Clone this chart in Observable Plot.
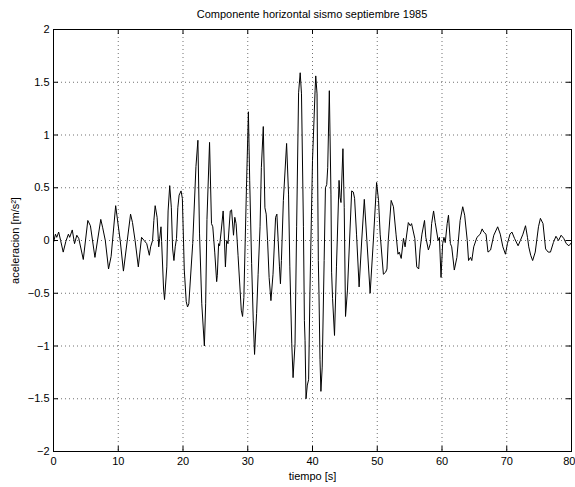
<!DOCTYPE html>
<html><head><meta charset="utf-8">
<script src="https://cdn.jsdelivr.net/npm/d3@7"></script>
<script src="https://cdn.jsdelivr.net/npm/@observablehq/plot@0.6"></script>
<style>
html,body{margin:0;padding:0;background:#fff;}
#wrap{width:575px;height:487px;position:relative;overflow:hidden;font-family:"Liberation Sans",Arial,Helvetica,sans-serif;}
#title{box-sizing:border-box;height:22px;padding-top:7px;padding-left:53px;padding-right:4px;width:575px;text-align:center;font-size:11px;line-height:14px;color:#000;}
svg{display:block;}
</style></head><body>
<div id="wrap"><div id="title">Componente horizontal sismo septiembre 1985</div><div id="chart"></div></div>
<script>
const title = "Componente horizontal sismo septiembre 1985";
const xLabel = "tiempo [s]";
const yLabel = "aceleracion [m/s²]";
const xTicks = [0, 10, 20, 30, 40, 50, 60, 70, 80];
const yTicks = [-2, -1.5, -1, -0.5, 0, 0.5, 1, 1.5, 2];
const tiempo = [
0.0,0.3,0.5,0.8,1.1,1.5,1.9,2.3,2.5,2.9,3.25,3.6,3.9,4.6,5.3,5.7,6.4,7.3,7.6,8.0,
8.5,8.9,9.6,10.0,10.3,10.8,11.9,12.2,12.6,13.1,13.6,14.0,14.4,14.8,15.0,15.3,15.5,15.7,16.0,16.25,
16.4,16.6,16.7,17.0,17.15,17.5,17.7,17.95,18.2,18.4,18.6,18.8,19.0,19.2,19.4,19.7,19.9,20.2,20.5,20.7,
20.9,21.5,22.0,22.3,22.55,22.9,23.3,23.5,23.7,24.1,24.4,24.6,24.9,25.2,25.3,25.5,25.65,25.9,26.2,26.35,
26.55,26.75,26.95,27.3,27.5,27.8,28.0,28.2,28.5,29.0,29.2,29.4,29.8,30.1,30.3,30.6,30.85,31.05,31.37,31.6,
31.9,32.1,32.4,32.65,32.85,33.06,33.3,33.58,33.9,34.3,34.5,34.7,34.9,35.05,35.2,35.5,36.0,36.3,36.5,36.8,
37.0,37.3,37.55,37.85,38.1,38.3,38.6,38.75,38.85,39.0,39.2,39.4,39.6,40.0,40.4,40.5,40.7,40.9,41.0,41.16,
41.3,41.5,41.8,42.0,42.2,42.35,42.6,42.85,42.95,43.1,43.4,43.7,44.1,44.25,44.4,44.7,44.9,45.1,45.4,46.05,
46.3,46.5,46.8,47.2,47.6,48.0,48.4,48.9,49.4,49.9,50.2,50.45,50.95,51.3,51.5,51.7,52.15,52.5,52.9,53.2,
53.4,53.7,54.05,54.3,54.6,54.8,55.1,55.3,55.8,56.1,56.4,56.6,56.9,57.3,57.5,57.9,58.2,58.4,58.7,58.95,
59.4,59.6,59.85,60.1,60.3,60.5,60.8,61.0,61.3,61.5,61.9,62.3,62.8,63.2,63.5,63.9,64.1,64.4,64.6,64.9,
65.4,65.9,66.2,66.45,66.8,67.1,67.5,68.0,68.6,69.0,69.4,69.8,70.1,70.5,70.8,71.2,71.75,72.1,72.5,72.9,
73.2,73.4,73.7,74.0,74.4,74.9,75.2,75.6,76.0,76.4,76.75,77.2,77.6,78.0,78.4,78.8,79.2,79.6,80.0
];
const aceleracion = [
-0.02,0.06,0.03,0.08,0.0,-0.11,-0.01,0.06,0.03,0.1,-0.03,0.05,0.02,-0.18,0.19,0.14,-0.16,0.2,0.12,0.0,
-0.27,-0.15,0.33,0.14,0.0,-0.29,0.25,0.17,0.0,-0.25,0.03,0.0,-0.03,-0.14,-0.06,0.0,0.19,0.33,0.22,-0.06,
0.02,0.13,-0.01,-0.46,-0.56,-0.25,0.28,0.52,0.31,-0.08,-0.19,-0.06,0.02,0.31,0.43,0.47,0.4,-0.28,-0.58,-0.63,
-0.6,-0.03,0.7,0.95,0.07,-0.6,-1.0,-0.6,0.2,0.93,0.16,0.13,-0.11,-0.39,-0.33,-0.03,-0.05,0.09,0.28,0.09,
-0.25,0.0,-0.03,0.28,0.29,0.05,0.22,0.16,-0.14,-0.66,-0.72,-0.54,0.5,1.22,0.57,-0.22,-0.76,-1.08,-0.69,-0.32,
0.13,0.69,1.08,0.31,0.25,0.0,-0.35,-0.57,-0.32,0.22,0.25,0.0,-0.25,-0.41,-0.19,0.38,0.92,0.44,-0.25,-0.98,
-1.3,-0.98,0.13,1.4,1.59,1.39,0.13,-0.76,-0.95,-1.5,-1.37,-1.32,-0.5,0.76,1.42,1.56,1.39,-0.19,-0.5,-1.13,
-1.43,-1.2,-0.19,0.5,0.53,0.69,1.42,0.44,-0.3,-0.55,-0.9,-0.25,0.57,0.41,0.36,0.87,0.315,-0.72,-0.47,0.47,
0.46,0.4,0.06,-0.44,0.0,0.39,0.0,-0.5,0.0,0.55,0.38,0.06,-0.32,-0.3,-0.27,0.0,0.38,0.32,0.06,-0.13,
-0.11,-0.17,0.02,-0.06,0.08,0.17,0.14,0.16,0.02,-0.25,-0.27,-0.09,0.06,0.19,0.03,-0.09,-0.03,0.16,0.28,0.17,
0.0,0.03,-0.35,-0.03,0.03,-0.02,0.16,0.24,-0.03,-0.06,-0.28,-0.16,0.19,0.32,0.24,0.0,-0.19,-0.16,-0.19,-0.06,
0.03,0.06,0.11,0.08,0.06,-0.11,-0.09,0.05,0.13,0.06,-0.06,-0.13,-0.03,0.06,0.08,0.02,-0.05,0.0,0.06,0.14,
0.03,-0.06,-0.14,-0.19,-0.11,0.13,0.21,0.16,-0.08,-0.11,-0.11,-0.02,0.04,0.0,0.05,0.02,-0.03,-0.05,-0.02
];
const data = tiempo.map((t, i) => ({t, a: aceleracion[i]}));
document.getElementById("title").textContent = title;

const W = 575, H = 465, mT = 7, mB = 36, mL = 53, mR = 4;
const fw = W - mL - mR, fh = H - mT - mB, tl = 5;
const grid = {stroke: "#000", strokeOpacity: 0.7, strokeWidth: 0.8, strokeDasharray: "1,3"};
const fmt = d => String(d).replace("-", "\u2212");
const font = '"Liberation Sans", Arial, Helvetica, sans-serif';

const chart = Plot.plot({
  width: W, height: H,
  marginTop: mT, marginBottom: mB, marginLeft: mL, marginRight: mR,
  style: {fontFamily: font, fontSize: "11px", color: "#000", background: "#fff", overflow: "visible"},
  x: {domain: [0, 80]},
  y: {domain: [-2, 2]},
  marks: [
    Plot.ruleX(xTicks.slice(1, -1), {x: d => d, ...grid}),
    Plot.ruleY(yTicks.slice(1, -1), {y: d => d, ...grid}),
    Plot.line(data, {x: "t", y: "a", stroke: "#000", strokeWidth: 1}),
    Plot.frame({stroke: "#000", strokeWidth: 1}),
    Plot.tickX(xTicks, {x: d => d, insetTop: fh - tl, stroke: "#000"}),
    Plot.tickX(xTicks, {x: d => d, insetBottom: fh - tl, stroke: "#000"}),
    Plot.tickY(yTicks, {y: d => d, insetRight: fw - tl, stroke: "#000"}),
    Plot.tickY(yTicks, {y: d => d, insetLeft: fw - tl, stroke: "#000"}),
    Plot.axisX(xTicks.slice(0, -1), {tickSize: 0, tickPadding: 6, tickFormat: fmt, label: xLabel, labelAnchor: "center", labelOffset: 28, labelArrow: "none", fontSize: 11}),
    Plot.axisX(xTicks.slice(-1), {tickSize: 0, tickPadding: 6, tickFormat: fmt, label: null, textAnchor: "end", dx: 4, fontSize: 11}),
    Plot.axisY(yTicks, {tickSize: 0, tickPadding: 4, tickFormat: fmt, label: yLabel, labelAnchor: "center", labelOffset: 42, labelArrow: "none", fontSize: 11})
  ]
});
document.getElementById("chart").appendChild(chart);
</script>
</body></html>
